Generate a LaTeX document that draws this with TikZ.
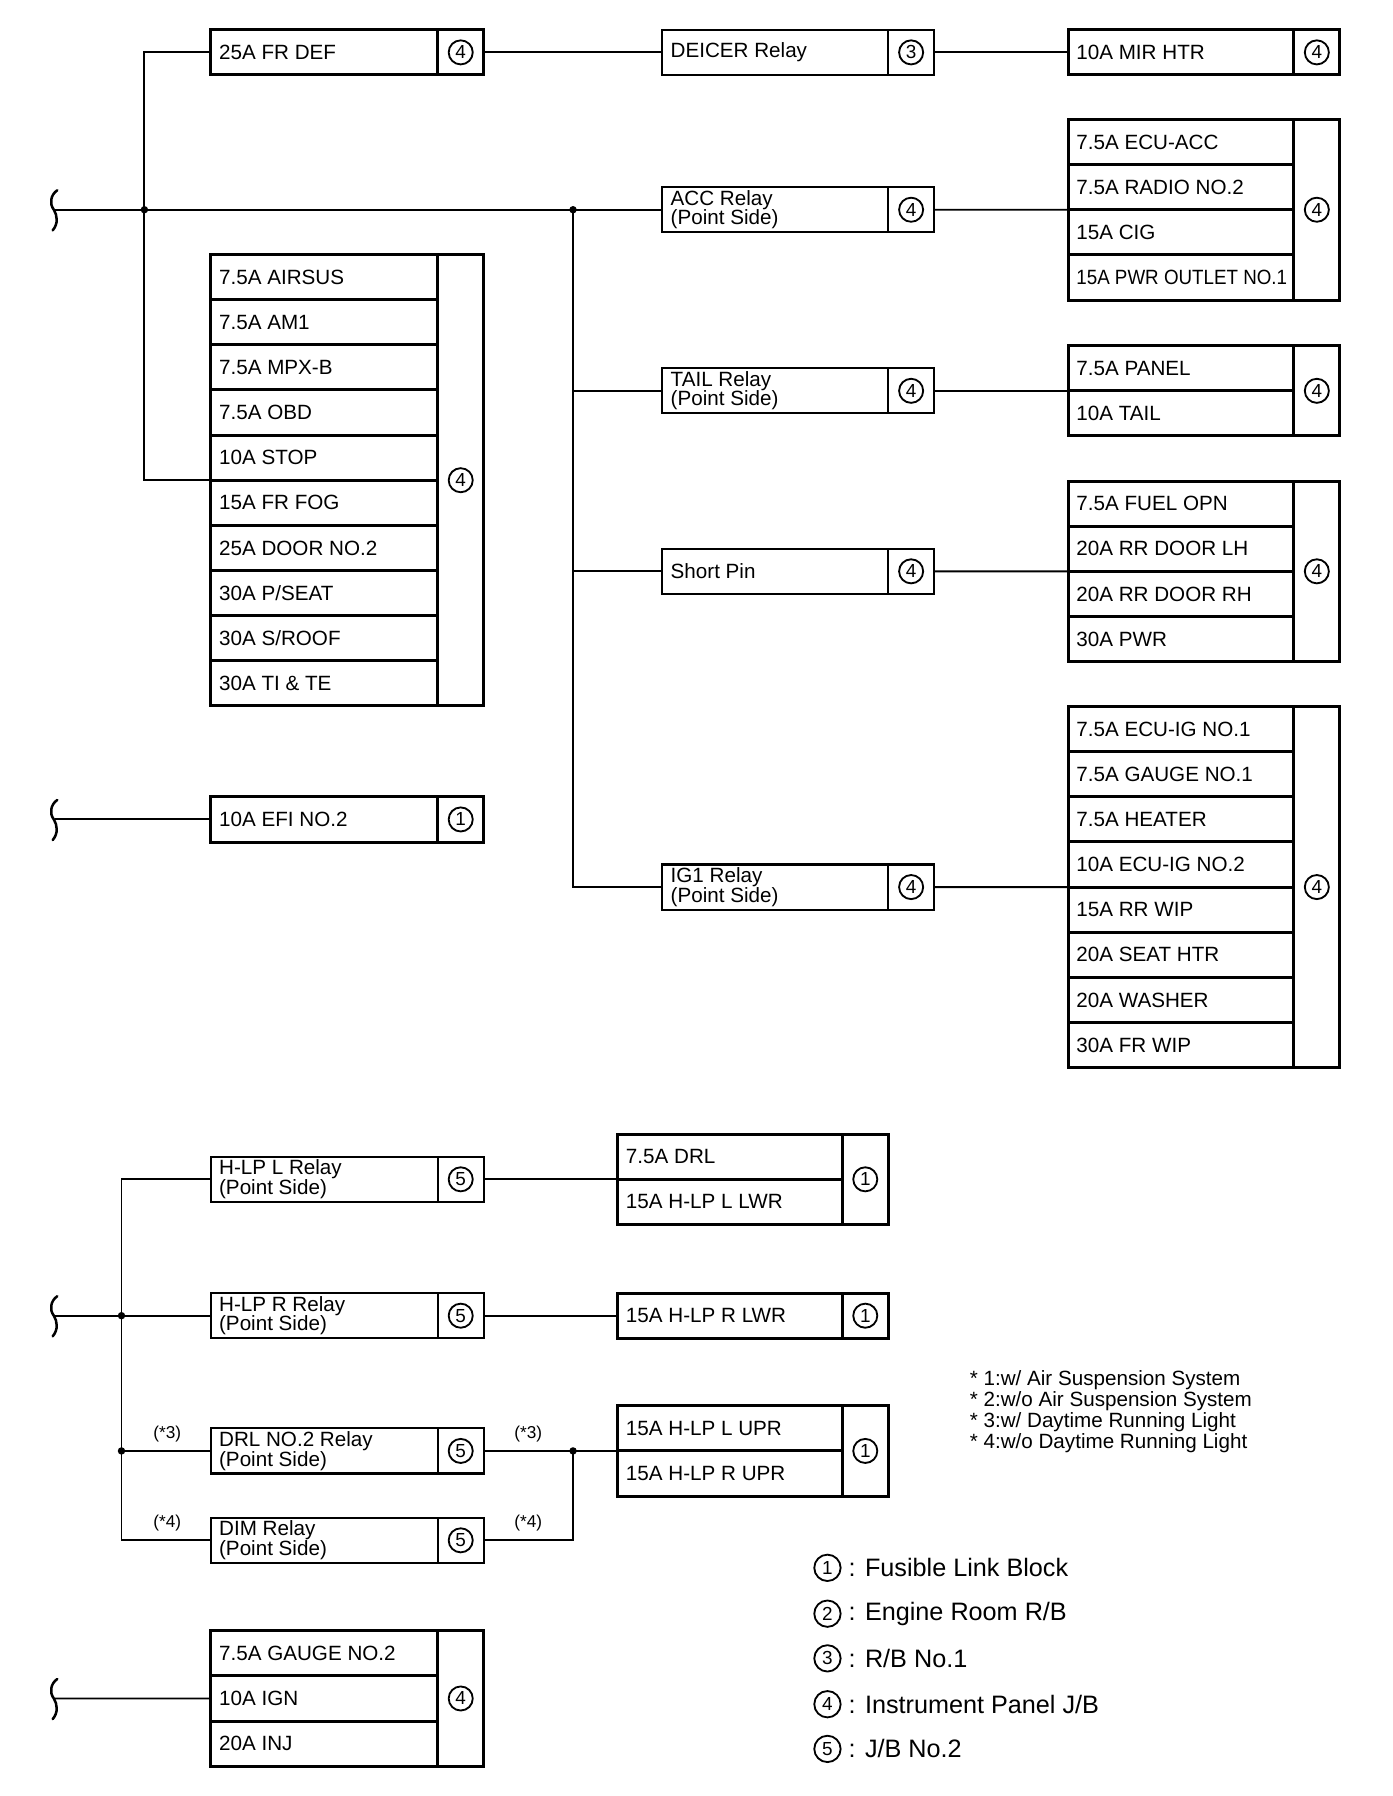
\documentclass[tikz,border=0pt]{standalone}
\usepackage{graphicx}
\usepackage{fontspec}
\setmainfont{Liberation Sans}
\begin{document}
\begin{tikzpicture}[
  x=1pt, y=-1pt,
  fusebox/.style={draw, line width=2.6pt, inner sep=0pt, outer sep=0pt, minimum height=39.4pt, anchor=north west},
  relaybox/.style={draw, line width=1.8pt, inner sep=0pt, outer sep=0pt, minimum height=39.4pt, anchor=north west},
  lbl/.style={anchor=west, inner sep=0pt, align=left, font=\fontsize{18}{17}\selectfont},
  cnum/.style={circle, draw, line width=1.6pt, inner sep=0pt, minimum size=21pt, font=\fontsize{16.5}{16.5}\selectfont},
  wire/.style={line width=1.7pt},
  jdot/.style={circle, fill, inner sep=0pt, minimum size=6.5pt},
  starlbl/.style={inner sep=0pt, font=\fontsize{15}{15}\selectfont},
  legtxt/.style={anchor=west, inner sep=0pt, font=\fontsize{22}{22}\selectfont},
]
\useasboundingbox (0,0) rectangle (1214.6,1567.1);

\newcommand\unitbox[7]{% style, name, x, ytop, wtext, text, num
  \node[#1, minimum width=#5pt] (#2) at (#3,#4) {};
  \node[#1, minimum width=40pt] (#2n) at ({#3+#5},#4) {};
  \node[cnum] at (#2n.center) {#7};
  \node[lbl] at ([xshift=7pt]#2.west) {#6};
}
\newcommand\fblock[7]{% name, x, ytop, wtext, nrows, num, rows
  \foreach \t [count=\i from 0] in {#7} {
    \node[fusebox, minimum width=#4pt] (#1-\i) at (#2,{#3+39.4*\i}) {};
    \node[lbl] at ([xshift=7pt]#1-\i.west) {\t};
  }
  \node[fusebox, minimum width=40pt, minimum height={#5*39.4pt}] (#1n) at ({#2+#4},#3) {};
  \node[cnum] at (#1n.center) {#6};
  \node[inner sep=0pt, outer sep=0pt, minimum width={#4pt+40pt}, minimum height={#5*39.4pt}, anchor=north west] (#1) at (#2,#3) {};
}
\newcommand\wbrace[2]{% name, y
  \coordinate (#1) at (48,#2);
  \draw[line width=2.2pt, line cap=round] ([shift={(2,-17)}]#1) .. controls ([shift={(-4,-13)}]#1) and ([shift={(-5,-5)}]#1) .. ([shift={(-1,0)}]#1) .. controls ([shift={(2,5)}]#1) and ([shift={(3,12)}]#1) .. ([shift={(-2,18)}]#1);
}

% ---------- top section ----------
\unitbox{fusebox}{frdef}{184}{26}{198}{25A FR DEF}{4}
\unitbox{relaybox}{deicer}{578}{26}{197}{DEICER Relay}{3}
\unitbox{fusebox}{mir}{932}{26}{197}{10A MIR HTR}{4}
\unitbox{relaybox}{acc}{578}{163.3}{197}{ACC Relay\\(Point Side)}{4}
\unitbox{relaybox}{tail}{578}{321.3}{197}{TAIL Relay\\(Point Side)}{4}
\unitbox{relaybox}{spin}{578}{478.8}{197}{Short Pin}{4}
\unitbox{relaybox}{igone}{578}{754.3}{197}{IG1 Relay\\(Point Side)}{4}
\unitbox{fusebox}{efi}{184}{695.3}{198}{10A EFI NO.2}{1}

\fblock{accb}{932}{104.2}{197}{4}{4}{7.5A ECU-ACC,7.5A RADIO NO.2,15A CIG,{\scalebox{0.91}[1]{15A PWR OUTLET NO.1}}}
\fblock{air}{184}{222}{198}{10}{4}{7.5A AIRSUS,7.5A AM1,7.5A MPX-B,7.5A OBD,10A STOP,15A FR FOG,25A DOOR NO.2,30A P/SEAT,30A S/ROOF,30A TI \& TE}
\fblock{pan}{932}{301.6}{197}{2}{4}{7.5A PANEL,10A TAIL}
\fblock{fuel}{932}{419.7}{197}{4}{4}{7.5A FUEL OPN,20A RR DOOR LH,20A RR DOOR RH,30A PWR}
\fblock{ecuig}{932}{616.4}{197}{8}{4}{7.5A ECU-IG NO.1,7.5A GAUGE NO.1,7.5A HEATER,10A ECU-IG NO.2,15A RR WIP,20A SEAT HTR,20A WASHER,30A FR WIP}

\wbrace{bra}{183}
\wbrace{brb}{715}
\node[jdot] (d1) at (126,183) {};
\node[jdot] (d2) at (500,183) {};

\draw[wire] (bra) -- (acc.west);
\draw[wire] (frdef.west) -| (d1.center) |- (air.west);
\draw[wire] (frdefn.east) -- (deicer.west);
\draw[wire] (deicern.east) -- (mir.west);
\draw[wire] (accn.east) -- (accb.west);
\draw[wire] (d2.center) |- (tail.west);
\draw[wire] (d2.center) |- (spin.west);
\draw[wire] (d2.center) |- (igone.west);
\draw[wire] (tailn.east) -- (pan.west);
\draw[wire] (spinn.east) -- (fuel.west);
\draw[wire] (igonen.east) -- (ecuig.west);
\draw[wire] (brb) -- (efi.west);

% ---------- bottom section ----------
\unitbox{relaybox}{hlpl}{184}{1009.3}{198}{H-LP L Relay\\(Point Side)}{5}
\unitbox{relaybox}{hlpr}{184}{1128.3}{198}{H-LP R Relay\\(Point Side)}{5}
\unitbox{fusebox}{lwr}{539}{1128.3}{196}{15A H-LP R LWR}{1}
\unitbox{relaybox}{drltwo}{184}{1246.3}{198}{DRL NO.2 Relay\\(Point Side)}{5}
\unitbox{relaybox}{dim}{184}{1324.3}{198}{DIM Relay\\(Point Side)}{5}
\fblock{drl}{539}{989.6}{196}{2}{1}{7.5A DRL,15A H-LP L LWR}
\fblock{upr}{539}{1226.6}{196}{2}{1}{15A H-LP L UPR,15A H-LP R UPR}
\fblock{gau}{184}{1422.9}{198}{3}{4}{7.5A GAUGE NO.2,10A IGN,20A INJ}

\wbrace{brc}{1148}
\wbrace{brd}{1482}
\node[jdot] (d3) at (106,1148) {};
\node[jdot] (d4) at (106,1266) {};
\node[jdot] (d5) at (500,1266) {};

\draw[wire] (brc) -- (hlpr.west);
\draw[wire] (hlpl.west) -| (d3.center) |- (dim.west);
\draw[wire] (d4.center) -- (drltwo.west);
\draw[wire] (hlpln.east) -- (drl.west);
\draw[wire] (hlprn.east) -- (lwr.west);
\draw[wire] (drltwon.east) -- (upr.west);
\draw[wire] (dimn.east) -| (d5.center);
\draw[wire] (brd) -- (gau.west);

\node[starlbl] (s3a) at (146,1251) {(*3)};
\node[starlbl] (s3b) at (461,1251) {(*3)};
\node[starlbl] (s4a) at (146,1329) {(*4)};
\node[starlbl] (s4b) at (461,1329) {(*4)};

% ---------- notes ----------
\node[anchor=north west, inner sep=0pt, align=left, font=\fontsize{18}{18.2}\selectfont] (notes) at (846,1196)
  {* 1:w/ Air Suspension System\\* 2:w/o Air Suspension System\\* 3:w/ Daytime Running Light\\* 4:w/o Daytime Running Light};

% ---------- legend ----------
\node[cnum, minimum size=23pt] (lg1) at (722,1368) {1};
\node[legtxt] at ([xshift=6pt]lg1.east) {: Fusible Link Block};
\node[cnum, minimum size=23pt] (lg2) at (722,1408) {2};
\node[legtxt] at ([xshift=6pt]lg2.east) {: Engine Room R/B};
\node[cnum, minimum size=23pt] (lg3) at (722,1447) {3};
\node[legtxt] at ([xshift=6pt]lg3.east) {: R/B No.1};
\node[cnum, minimum size=23pt] (lg4) at (722,1487) {4};
\node[legtxt] at ([xshift=6pt]lg4.east) {: Instrument Panel J/B};
\node[cnum, minimum size=23pt] (lg5) at (722,1526) {5};
\node[legtxt] at ([xshift=6pt]lg5.east) {: J/B No.2};
\end{tikzpicture}
\end{document}
